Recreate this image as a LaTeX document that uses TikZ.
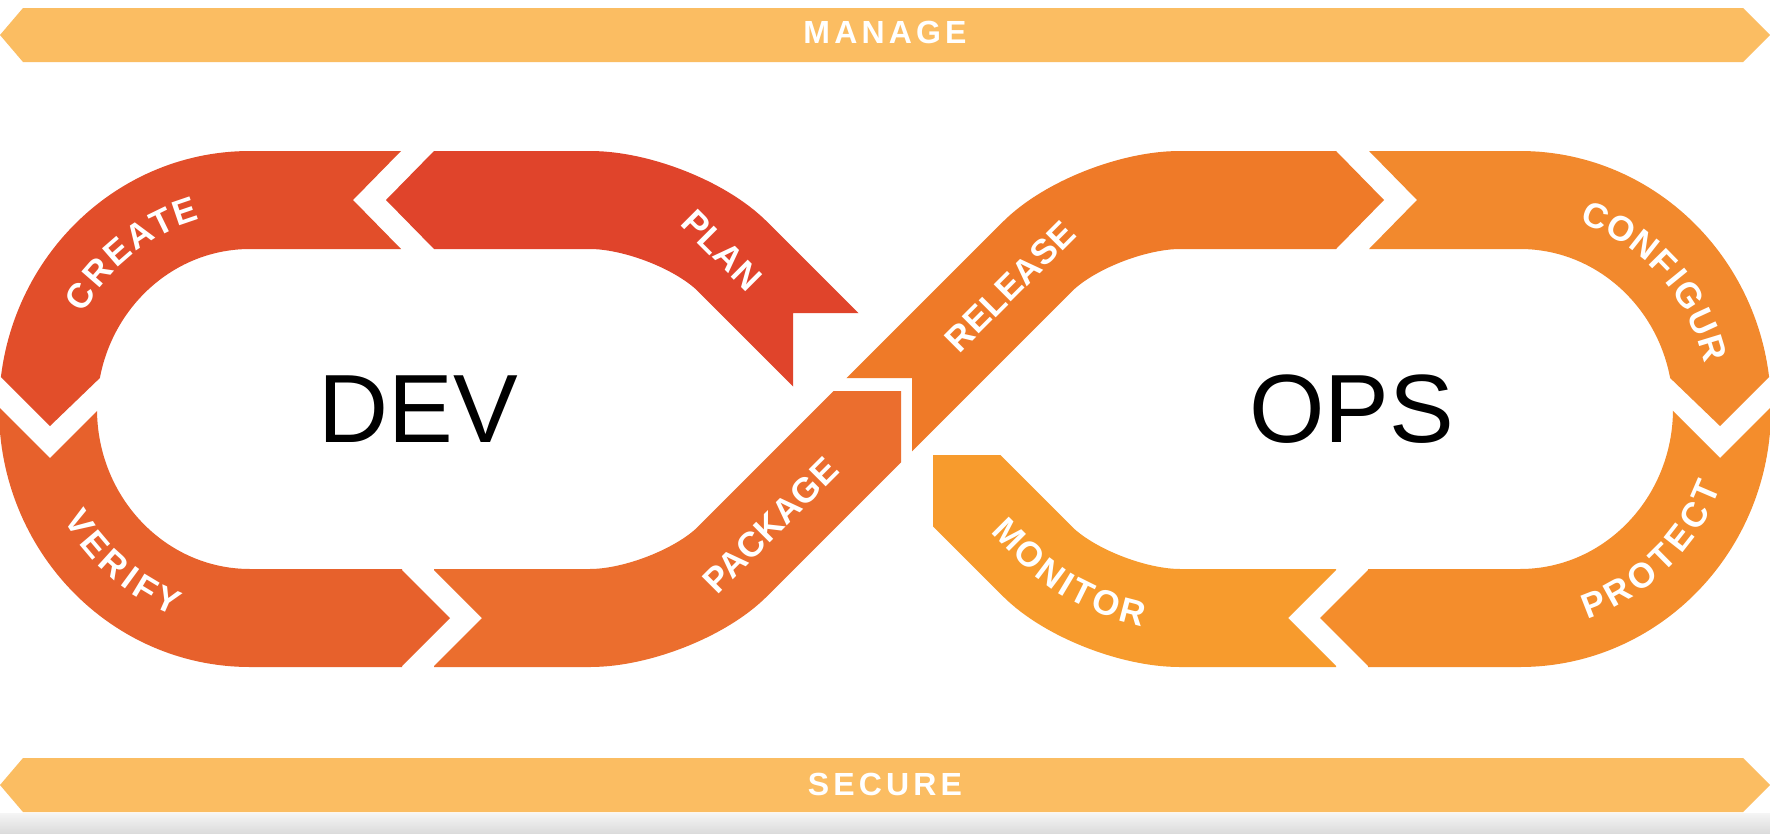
\documentclass[tikz,border=0pt]{standalone}
\usepackage{fontspec}
\setmainfont{Liberation Sans}
\newfontfamily\lblfont[LetterSpace=1]{Liberation Sans Bold}
\newfontfamily\letfont{Liberation Sans Bold}
\newfontfamily\barfont[LetterSpace=13]{Liberation Sans Bold}
\usetikzlibrary{decorations.markings}
\definecolor{barc}{RGB}{251,189,98}
\definecolor{cplan}{RGB}{224,68,43}
\definecolor{ccreate}{RGB}{226,78,42}
\definecolor{cverify}{RGB}{231,97,44}
\definecolor{cpackage}{RGB}{235,110,46}
\definecolor{crelease}{RGB}{239,122,40}
\definecolor{cconfig}{RGB}{242,137,45}
\definecolor{cprotect}{RGB}{244,141,44}
\definecolor{cmonitor}{RGB}{247,155,45}
\begin{document}
\begin{tikzpicture}[x=1pt,y=-1pt,
  band/.style={line width=98pt},
  leftloop/.style={insert path={(828,352) -- (732.5,256.5) .. controls (701.4,225.4) and (637,200) .. (590,200) -- (250,200) .. controls (138.4,200) and (48,293.6) .. (48,409) .. controls (48,524.4) and (138.4,618) .. (250,618) -- (590,618) .. controls (637,618) and (701.4,592.6) .. (732.5,561.5) -- (910,384)}},
  rightloop/.style={insert path={(872,422) -- (1037.5,256.5) .. controls (1068.6,225.4) and (1133,200) .. (1180,200) -- (1520,200) .. controls (1631.6,200) and (1722,293.6) .. (1722,409) .. controls (1722,524.4) and (1631.6,618) .. (1520,618) -- (1180,618) .. controls (1133,618) and (1068.6,592.6) .. (1037.5,561.5) -- (930,454)}},
  whitetext/.style={text=white, inner sep=0pt},
  lbl/.style={whitetext, font=\lblfont\fontsize{35}{35}\selectfont, text height=25pt, text depth=0pt},
  letter/.style={whitetext, font=\letfont\fontsize{35}{35}\selectfont, text height=25pt, text depth=0pt},
  bartext/.style={whitetext, font=\barfont\fontsize{32}{32}\selectfont, text height=23pt, text depth=0pt},
  big/.style={text=black, inner sep=0pt, font=\fontsize{97}{97}\selectfont, anchor=base},
  barshape/.style={fill=barc}
]
\useasboundingbox (0,0) rectangle (1770,833);
\fill[white] (0,0) rectangle (1770,833);
% bottom shadow
\shade[top color=black!4, bottom color=black!14] (0,813) rectangle (1770,833);
% bars
\fill[barshape] (0,35) -- (23,8) -- (1743,8) -- (1770,35) -- (1743,62) -- (23,62) -- cycle;
\node[bartext] (manage) at (885,32) {MANAGE};
\fill[barshape] (0,785) -- (23,758) -- (1743,758) -- (1770,785) -- (1743,812) -- (23,812) -- cycle;
\node[bartext] (secure) at (885,784) {SECURE};

% ---------- left loop ----------
\begin{scope}
\clip (434,-10) -- (434,151) -- (386,200) -- (434,249) -- (434,420) -- (793,420) -- (793,313) -- (1000,313) -- (1000,-10) -- cycle;
\draw[band, draw=cplan, leftloop];
\end{scope}
\begin{scope}
\clip (-50,-10) -- (401,-10) -- (401,151) -- (353,200) -- (401,249) -- (130,349) -- (50,426) -- (-30,346) -- (-50,346) -- cycle;
\draw[band, draw=ccreate, leftloop];
\end{scope}
\begin{scope}
\clip (-50,376) -- (-32,376) -- (50,458) -- (132,376) -- (402,540) -- (402,570) -- (450,618) -- (402,666) -- (402,720) -- (-50,720) -- cycle;
\draw[band, draw=cverify, leftloop];
\end{scope}
\begin{scope}
\clip (434,480) -- (434,570) -- (482,618) -- (434,666) -- (434,720) -- (901,720) -- (901,391) -- (760,391) -- cycle;
\draw[band, draw=cpackage, leftloop];
\end{scope}

% ---------- right loop ----------
\begin{scope}
\clip (700,-10) -- (1336,-10) -- (1336,151) -- (1384,200) -- (1336,249) -- (1336,300) -- (1074,300) -- (912,462) -- (912,378) -- (700,378) -- cycle;
\draw[band, draw=crelease, rightloop];
\end{scope}
\begin{scope}
\clip (1820,-10) -- (1369,-10) -- (1369,151) -- (1417,200) -- (1369,249) -- (1640,349) -- (1720,426) -- (1800,346) -- (1820,346) -- cycle;
\draw[band, draw=cconfig, rightloop];
\end{scope}
\begin{scope}
\clip (1820,376) -- (1802,376) -- (1720,458) -- (1638,376) -- (1368,540) -- (1368,570) -- (1320,618) -- (1368,666) -- (1368,720) -- (1820,720) -- cycle;
\draw[band, draw=cprotect, rightloop];
\end{scope}
\begin{scope}
\clip (1336,720) -- (1336,666) -- (1288,618) -- (1336,570) -- (1336,455) -- (933,455) -- (933,720) -- cycle;
\draw[band, draw=cmonitor, rightloop];
\end{scope}

% ---------- labels ----------
\node[lbl, rotate=-45] (plan) at (722,250) {PLAN};
\node[lbl, rotate=45] (package) at (770,525) {PACKAGE};
\node[lbl, rotate=45] (release) at (1010,286) {RELEASE};

\foreach \ch/\t [count=\i] in {C/-147.4, R/-139.0, E/-131.0, A/-123.4, T/-116.0, E/-108.8}
  \node[letter, rotate={-1*(\t)-90}] (cre\i) at ({250+202*cos(\t)},{409+209*sin(\t)}) {\ch};
\foreach \ch/\t [count=\i] in {V/147.2, E/139.8, R/132.2, I/126.3, F/121, Y/113.8}
  \node[letter, rotate={90-\t}] (ver\i) at ({250+202*cos(\t)},{409+209*sin(\t)}) {\ch};
\foreach \ch/\t [count=\i] in {C/-68, O/-59.9, N/-51.8, F/-44.4, I/-39.1, G/-32.9, U/-24.8, R/-17}
  \node[letter, rotate={-1*(\t)-90}] (con\i) at ({1520+202*cos(\t)},{409+209*sin(\t)}) {\ch};
\foreach \ch/\t [count=\i] in {P/68.6, R/61, O/52.9, T/45.3, E/38.1, C/30.5, T/23.2}
  \node[letter, rotate={90-\t}] (pro\i) at ({1520+202*cos(\t)},{409+209*sin(\t)}) {\ch};

\path[postaction={decorate}, decoration={markings,
  mark=at position 70pt with {\node[letter, transform shape] (mon1) {M};},
  mark=at position 99.6pt with {\node[letter, transform shape] (mon2) {O};},
  mark=at position 127.4pt with {\node[letter, transform shape] (mon3) {N};},
  mark=at position 146.9pt with {\node[letter, transform shape] (mon4) {I};},
  mark=at position 164.6pt with {\node[letter, transform shape] (mon5) {T};},
  mark=at position 190.5pt with {\node[letter, transform shape] (mon6) {O};},
  mark=at position 218.3pt with {\node[letter, transform shape] (mon7) {R};}}]
  (960,484) -- (1037.5,561.5) .. controls (1068.6,592.6) and (1133,618) .. (1180,618) -- (1300,618);

\node[big] (dev) at (418.5,442) {DEV};
\node[big] (ops) at (1351.5,442) {OPS};
\end{tikzpicture}
\end{document}
